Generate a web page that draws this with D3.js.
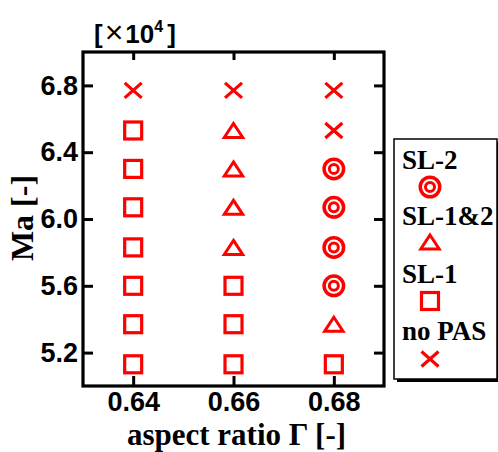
<!DOCTYPE html>
<html>
<head>
<meta charset="utf-8">
<script src="https://cdn.jsdelivr.net/npm/d3@7"></script>
<style>
  body { margin: 0; background: #fff; }
  svg { display: block; }
  .tick text { font-family: "Liberation Sans", Arial, sans-serif; font-weight: bold; font-size: 27px; fill: #000; }
  .title { font-family: "Liberation Serif", "Times New Roman", serif; font-weight: bold; fill: #000; }
</style>
</head>
<body>
<script>
// aspect ratio columns and Marangoni levels (x10^4)
var gammaValues = [0.64, 0.66, 0.68];
var maValues = [5.13, 5.37, 5.60, 5.83, 6.07, 6.30, 6.53, 6.77];
// flow regime per Ma level, one list per aspect ratio
var regime064 = ["SL-1", "SL-1", "SL-1", "SL-1", "SL-1", "SL-1", "SL-1", "no PAS"];
var regime066 = ["SL-1", "SL-1", "SL-1", "SL-1&2", "SL-1&2", "SL-1&2", "SL-1&2", "no PAS"];
var regime068 = ["SL-1", "SL-1&2", "SL-2", "SL-2", "SL-2", "SL-2", "no PAS", "no PAS"];
var xTicks = [0.64, 0.66, 0.68];
var yTicks = [5.2, 5.6, 6.0, 6.4, 6.8];
var legendLabels = ["SL-2", "SL-1&2", "SL-1", "no PAS"];

var W = 498, H = 452,
    margin = {left: 83, right: 114, top: 52, bottom: 66},
    red = "#ff0000";

var svg = d3.select("body").append("svg").attr("width", W).attr("height", H);

var x = d3.scaleLinear().domain([0.63, 0.69]).range([margin.left, W - margin.right]);
var y = d3.scaleLinear().domain([5.0, 7.0]).range([H - margin.bottom, margin.top]);

var fmt = d3.format(".2f");

function styleAxis(g) {
    g.select(".domain").remove();
    g.selectAll(".tick line").attr("stroke", "#000").attr("stroke-width", 3);
}

svg.append("g")
    .attr("transform", "translate(0," + y.range()[0] + ")")
    .call(d3.axisBottom(x).tickValues(xTicks).tickFormat(fmt).tickSize(-10).tickPadding(6))
    .call(styleAxis);
svg.append("g")
    .attr("transform", "translate(0," + y.range()[1] + ")")
    .call(d3.axisTop(x).tickValues(xTicks).tickFormat("").tickSize(-8))
    .call(styleAxis);
svg.append("g")
    .attr("transform", "translate(" + x.range()[0] + ",0)")
    .call(d3.axisLeft(y).tickValues(yTicks).tickFormat(d3.format(".1f")).tickSize(-10).tickPadding(5))
    .call(styleAxis);
svg.append("g")
    .attr("transform", "translate(" + x.range()[1] + ",0)")
    .call(d3.axisRight(y).tickValues(yTicks).tickFormat("").tickSize(-10))
    .call(styleAxis);

svg.append("rect")
    .attr("x", x.range()[0]).attr("y", y.range()[1])
    .attr("width", x.range()[1] - x.range()[0])
    .attr("height", y.range()[0] - y.range()[1])
    .attr("fill", "none").attr("stroke", "#000").attr("stroke-width", 3.2);

// marker shapes
function drawMarker(g, kind) {
    g.attr("fill", "none").attr("stroke", red);
    if (kind === "SL-2") {
        g.append("circle").attr("r", 9.75).attr("stroke-width", 3.5);
        g.append("circle").attr("r", 4.5).attr("stroke-width", 3);
    } else if (kind === "SL-1&2") {
        g.append("path").attr("d", "M0,-7L9.2,7L-9.2,7Z")
            .attr("stroke-width", 3).attr("stroke-linejoin", "miter");
    } else if (kind === "SL-1") {
        g.append("rect").attr("x", -8.5).attr("y", -8.5).attr("width", 17).attr("height", 17)
            .attr("stroke-width", 3.2);
    } else {
        g.append("path").attr("d", "M-8.5,-7.5L8.5,7.5M-8.5,7.5L8.5,-7.5")
            .attr("stroke-width", 3.2);
    }
}

var points = [];
[regime064, regime066, regime068].forEach(function (list, i) {
    list.forEach(function (r, j) {
        points.push({gamma: gammaValues[i], ma: maValues[j], regime: r});
    });
});

svg.append("g").selectAll("g")
    .data(points)
  .enter().append("g")
    .attr("transform", function (d) { return "translate(" + x(d.gamma) + "," + y(d.ma) + ")"; })
    .each(function (d) { drawMarker(d3.select(this), d.regime); });

// axis titles
svg.append("text").attr("class", "title")
    .attr("x", (x.range()[0] + x.range()[1]) / 2 + 3).attr("y", 445)
    .attr("text-anchor", "middle").style("font-size", "31px")
    .text("aspect ratio \u0393 [-]");
svg.append("text").attr("class", "title")
    .attr("transform", "translate(33,218) rotate(-90)")
    .attr("text-anchor", "middle").style("font-size", "32px")
    .text("Ma [-]");

// scale factor label
var sc = svg.append("text")
    .attr("x", 94).attr("y", 43)
    .style("font-family", "Liberation Sans, Arial, sans-serif")
    .style("font-weight", "bold").style("font-size", "26px");
sc.append("tspan").text("[");
sc.append("tspan").style("font-weight", "normal").style("font-size", "32px").attr("dx", 2).text("\u00d7");
sc.append("tspan").attr("dx", 2).text("10");
sc.append("tspan").attr("dy", -11).style("font-size", "16px").text("4");
sc.append("tspan").attr("dy", 11).attr("dx", 4).text("]");

// legend
var lg = svg.append("g").attr("transform", "translate(394,139)");
lg.append("rect").attr("x", 3).attr("y", 3).attr("width", 103).attr("height", 240).attr("fill", "#000");
lg.append("rect").attr("x", 0).attr("y", 0).attr("width", 103).attr("height", 240)
    .attr("fill", "#fff").attr("stroke", "#000").attr("stroke-width", 1.5);
var legendTextY = [30, 86, 144, 201],
    legendMarkY = [48, 103, 162, 220];
legendLabels.forEach(function (name, i) {
    lg.append("text").attr("class", "title")
        .attr("x", 8).attr("y", legendTextY[i])
        .style("font-size", "27px").text(name);
    drawMarker(lg.append("g").attr("transform", "translate(36," + legendMarkY[i] + ")"), name);
});
</script>
</body>
</html>
